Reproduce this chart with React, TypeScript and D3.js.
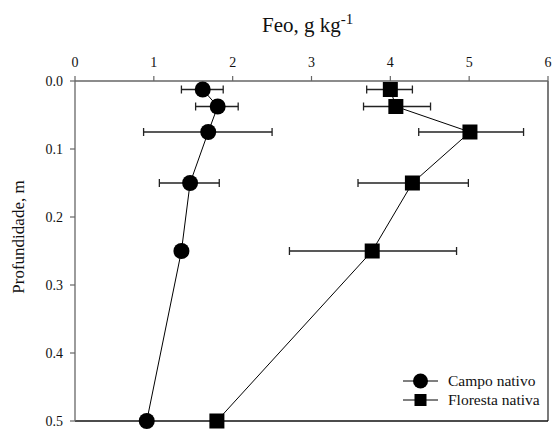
import React from "react";
import * as d3 from "d3";

const depths = [0.0125, 0.0375, 0.075, 0.15, 0.25, 0.5];
const campoValues = [1.62, 1.81, 1.69, 1.46, 1.35, 0.91];
const campoLow = [1.35, 1.53, 0.87, 1.07, 1.35, 0.91];
const campoHigh = [1.88, 2.07, 2.5, 1.83, 1.35, 0.91];
const florestaValues = [4.0, 4.07, 5.01, 4.28, 3.77, 1.8];
const florestaLow = [3.7, 3.66, 4.36, 3.59, 2.72, 1.8];
const florestaHigh = [4.28, 4.51, 5.69, 4.99, 4.84, 1.8];
const xTicks = [0, 1, 2, 3, 4, 5, 6];
const yTicks = [0.0, 0.1, 0.2, 0.3, 0.4, 0.5];

const W = 553;
const H = 430;
const left = 75;
const right = 548;
const top = 81;
const bottom = 421;
const FONT = "'Liberation Serif', 'Times New Roman', Times, serif";

export default function App() {
  const x = d3.scaleLinear().domain([0, 6]).range([left, right]);
  const y = d3.scaleLinear().domain([0, 0.5]).range([top, bottom]);
  const line = d3
    .line<number>()
    .x((d) => x(d))
    .y((_, i) => y(depths[i]));

  const errBars = (lo: number[], hi: number[], key: string) =>
    depths.map((d, i) =>
      hi[i] - lo[i] > 0.01 ? (
        <g key={key + i} stroke="#222" strokeWidth={1.3}>
          <line x1={x(lo[i])} x2={x(hi[i])} y1={y(d)} y2={y(d)} />
          <line x1={x(lo[i])} x2={x(lo[i])} y1={y(d) - 4} y2={y(d) + 4} />
          <line x1={x(hi[i])} x2={x(hi[i])} y1={y(d) - 4} y2={y(d) + 4} />
        </g>
      ) : null
    );

  const txt = { fontFamily: FONT } as React.CSSProperties;

  return (
    <svg
      width={W}
      height={H}
      style={{ position: "absolute", left: 0, top: 0, background: "#fff" }}
    >
      {/* frame */}
      <line x1={right} x2={right} y1={top} y2={bottom} stroke="#333" strokeWidth={1.3} />
      <line x1={left} x2={right} y1={bottom} y2={bottom} stroke="#111" strokeWidth={1.5} />
      {/* top axis */}
      <line x1={left} x2={right} y1={top} y2={top} stroke="#666" strokeWidth={1.3} />
      {xTicks.map((t) => (
        <g key={"xt" + t}>
          <line x1={x(t)} x2={x(t)} y1={top} y2={top - 5} stroke="#666" strokeWidth={1.2} />
          <text x={x(t)} y={67} fontSize={14} textAnchor="middle" fill="#111" style={txt}>
            {t}
          </text>
        </g>
      ))}
      {/* left axis */}
      <line x1={left} x2={left} y1={top} y2={bottom} stroke="#666" strokeWidth={1.3} />
      {yTicks.map((t) => (
        <g key={"yt" + t}>
          <line x1={left} x2={left - 5} y1={y(t)} y2={y(t)} stroke="#666" strokeWidth={1.2} />
          <text x={63} y={y(t)} dy="0.35em" fontSize={14} textAnchor="end" fill="#111" style={txt}>
            {t.toFixed(1)}
          </text>
        </g>
      ))}
      {/* titles */}
      <text x={262} y={32} fontSize={21} fill="#111" style={txt}>
        Feo, g kg
        <tspan dy={-8} fontSize={15}>-1</tspan>
      </text>
      <text
        transform={`translate(24, ${237}) rotate(-90)`}
        textAnchor="middle"
        fontSize={17}
        fill="#111"
        style={txt}
      >
        Profundidade, m
      </text>

      {/* lines */}
      <path d={line(campoValues) || ""} fill="none" stroke="#000" strokeWidth={1} />
      <path d={line(florestaValues) || ""} fill="none" stroke="#000" strokeWidth={1} />

      {errBars(campoLow, campoHigh, "c")}
      {errBars(florestaLow, florestaHigh, "f")}

      {campoValues.map((v, i) => (
        <circle key={"c" + i} cx={x(v)} cy={y(depths[i])} r={8} fill="#000" />
      ))}
      {florestaValues.map((v, i) => (
        <rect
          key={"f" + i}
          x={x(v) - 7.5}
          y={y(depths[i]) - 7.5}
          width={15}
          height={15}
          fill="#000"
        />
      ))}

      {/* legend */}
      <g>
        <line x1={403} x2={438} y1={381} y2={381} stroke="#000" strokeWidth={1} />
        <circle cx={420.5} cy={381} r={7.5} fill="#000" />
        <text x={448} y={386} fontSize={15.5} fill="#111" style={txt}>
          Campo nativo
        </text>
        <line x1={403} x2={438} y1={400} y2={400} stroke="#000" strokeWidth={1} />
        <rect x={414.5} y={394} width={12} height={12} fill="#000" />
        <text x={448} y={405} fontSize={15.5} fill="#111" style={txt}>
          Floresta nativa
        </text>
      </g>
    </svg>
  );
}
